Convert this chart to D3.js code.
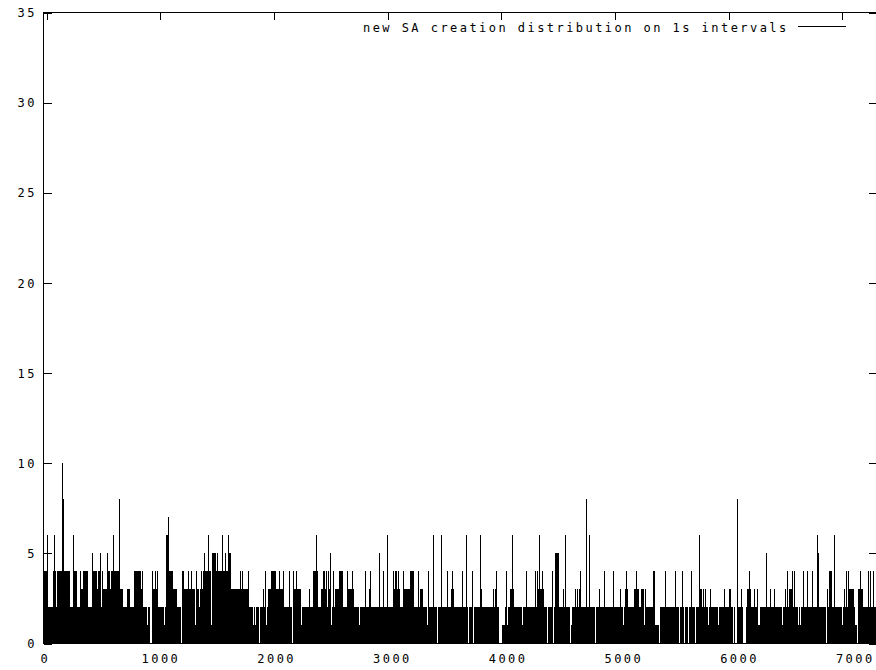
<!DOCTYPE html>
<html><head><meta charset="utf-8">
<script src="https://cdn.jsdelivr.net/npm/d3@7"></script>
<style>body{margin:0;background:#fff}svg{display:block}</style>
</head><body>
<svg id="chart" width="876" height="670"></svg>
<script>
// ---- data ----
const legendLabel = "new SA creation distribution on 1s intervals";
const yTickValues = [0, 5, 10, 15, 20, 25, 30, 35];
const xTickValues = [0, 1000, 2000, 3000, 4000, 5000, 6000, 7000];
const xMax = 7207;
const yMax = 35;
const binSeconds = 8.64; // each drawn column aggregates ~8.6 one-second intervals (peak count shown)
const counts = [
4,4,4,4,6,2,2,2,2,2, 4,6,4,2,4,4,4,4,4,10, 8,4,4,4,4,4,4,2,2,2, 6,4,4,4,2,2,2,4,3,3,
4,4,4,4,4,2,2,2,2,5, 4,4,4,4,3,4,4,5,2,4, 3,3,3,3,5,4,4,3,4,4, 6,4,4,4,4,4,8,3,3,3,
2,2,2,2,3,3,3,2,2,2, 2,4,4,4,4,4,4,4,3,4, 2,2,2,2,1,2,2,0,0,4, 3,3,4,3,4,2,2,2,2,2,
2,1,2,6,6,7,4,4,4,4, 3,3,3,3,2,2,2,2,0,4, 4,3,3,3,3,4,3,3,4,3, 3,3,1,4,3,3,2,3,4,3,
4,5,4,4,4,6,4,4,1,5, 5,5,5,4,5,4,4,4,4,6, 4,4,5,4,4,6,5,5,3,3, 3,3,3,3,3,3,3,4,3,4,
3,3,3,3,3,4,2,2,2,2, 1,2,1,2,2,2,0,2,2,2, 3,2,4,1,2,3,3,3,4,4, 4,4,4,3,3,3,4,3,3,3,
4,2,2,2,2,2,4,2,2,0, 4,3,3,4,3,3,3,3,1,2, 2,2,2,2,2,2,3,2,2,2, 4,4,4,6,4,2,2,2,3,3,
4,4,3,4,2,4,3,5,1,2, 4,2,3,3,3,3,4,4,4,4, 2,2,2,2,4,3,3,3,3,4, 3,2,2,2,2,2,1,2,2,2,
2,2,4,2,2,2,3,4,2,2, 2,2,2,2,2,2,5,2,2,2, 4,2,2,2,6,2,2,2,2,2, 4,3,4,4,3,4,3,2,2,2,
4,3,3,3,3,3,3,4,4,4, 4,2,2,2,2,4,2,3,3,3, 2,2,2,2,1,4,2,2,2,2, 6,2,2,2,0,2,2,2,6,2,
2,2,2,2,4,2,2,2,3,4, 3,2,2,2,2,2,2,2,2,4, 2,2,2,6,2,0,2,2,2,4, 0,2,2,2,2,2,2,6,3,2,
2,2,2,2,2,2,2,2,2,2, 3,2,3,4,2,2,0,0,0,1, 1,1,2,4,1,2,2,3,3,6, 3,2,2,2,2,2,2,2,2,1,
2,2,2,4,2,2,2,2,2,2, 2,2,4,2,4,3,6,3,3,4, 3,2,2,2,0,2,2,2,2,4, 0,2,5,5,5,5,2,2,2,2,
3,2,6,2,2,2,2,0,1,2, 2,2,3,2,3,2,3,4,2,2, 2,2,2,8,2,2,6,2,2,2, 2,2,0,2,2,2,3,2,2,2,
2,4,2,2,2,2,2,2,2,2, 4,2,2,2,2,2,2,3,2,2, 1,2,3,4,3,2,2,2,2,2, 2,3,3,4,3,3,2,2,3,3,
3,1,3,2,2,2,2,2,2,2, 4,4,1,1,1,1,0,2,2,2, 2,2,4,2,2,2,2,2,2,2, 2,2,4,2,2,2,0,2,2,4,
2,0,2,2,2,0,2,2,4,2, 2,2,0,2,2,2,6,3,3,2, 3,2,3,2,2,1,2,3,2,2, 2,2,2,2,2,1,2,2,2,2,
2,3,2,2,2,2,3,3,2,2, 0,2,0,0,8,2,2,2,3,2, 0,0,0,2,3,3,4,3,2,2, 2,3,2,2,3,1,1,2,2,2,
2,2,2,5,2,2,2,3,2,2, 2,3,2,2,2,2,2,2,2,1, 2,2,3,2,4,2,3,3,3,4, 2,4,2,2,2,1,2,1,2,2,
4,2,2,2,4,2,2,2,2,4, 2,2,2,2,6,5,2,2,2,2, 2,2,2,0,3,2,4,4,4,2, 2,6,2,2,2,2,2,2,2,1,
2,3,2,4,2,4,3,3,3,3, 3,2,1,1,0,3,3,4,3,3, 2,2,2,2,2,4,2,4,2,2, 4,2,2
];
const binStart = counts.map((_, i) => i * binSeconds);

// ---- drawing ----
const svg = d3.select("#chart");
const FONT = "'DejaVu Sans Mono', 'Liberation Mono', monospace";
const FS = 12, LS = 2.45;

const x = d3.scaleLinear().domain([0, xMax]).range([43, 877]);
const x2 = d3.scaleLinear().domain([0, xMax]).range([46.3, 46.3 + xMax * 0.11367]);
const y = d3.scaleLinear().domain([0, yMax]).range([643, 12]);

// impulses
svg.append("g").attr("shape-rendering", "crispEdges")
  .selectAll("rect").data(counts).join("rect")
  .attr("x", (d, i) => Math.round(x(binStart[i])))
  .attr("width", 1)
  .attr("y", d => Math.round(y(d)))
  .attr("height", d => 643 - Math.round(y(d)) + 1)
  .attr("fill", "#000");

// border
svg.append("rect").attr("x", 43.5).attr("y", 12.5)
  .attr("width", 877 - 43).attr("height", 643 - 12)
  .attr("fill", "none").attr("stroke", "#000").attr("shape-rendering", "crispEdges");

function styleAxis(g) {
  g.select(".domain").remove();
  g.selectAll("line").attr("stroke", "#000").attr("shape-rendering", "crispEdges");
  g.selectAll("text").attr("fill", "#000")
    .style("font-family", FONT).style("font-size", FS + "px").style("letter-spacing", LS + "px");
}

// left axis
svg.append("g").attr("transform", "translate(43.5,0.5)")
  .call(d3.axisLeft(y).tickValues(yTickValues).tickSize(-8).tickPadding(9).tickFormat(d3.format("d")))
  .call(styleAxis)
  .call(g => g.selectAll("text").attr("dy", "0.34em").attr("dx", LS));
// right ticks
svg.append("g").attr("transform", "translate(876.5,0.5)")
  .call(d3.axisRight(y).tickValues(yTickValues).tickSize(-8).tickFormat(""))
  .call(styleAxis);
// bottom axis
svg.append("g").attr("transform", "translate(0.5,643.5)")
  .call(d3.axisBottom(x).tickValues(xTickValues).tickSize(-8).tickPadding(11).tickFormat(d3.format("d")))
  .call(styleAxis)
  .call(g => g.selectAll("text").attr("dx", LS / 2));
// top ticks
svg.append("g").attr("transform", "translate(0.5,12.5)")
  .call(d3.axisTop(x2).tickValues(xTickValues).tickSize(-7).tickFormat(""))
  .call(styleAxis);

// legend
svg.append("text").attr("x", 363).attr("y", 31.5)
  .attr("fill", "#000")
  .style("font-family", FONT).style("font-size", FS + "px").style("letter-spacing", LS + "px")
  .style("white-space", "pre")
  .text(legendLabel);
svg.append("line").attr("x1", 798).attr("x2", 846).attr("y1", 26.5).attr("y2", 26.5)
  .attr("stroke", "#000").attr("shape-rendering", "crispEdges");
</script>
</body></html>
